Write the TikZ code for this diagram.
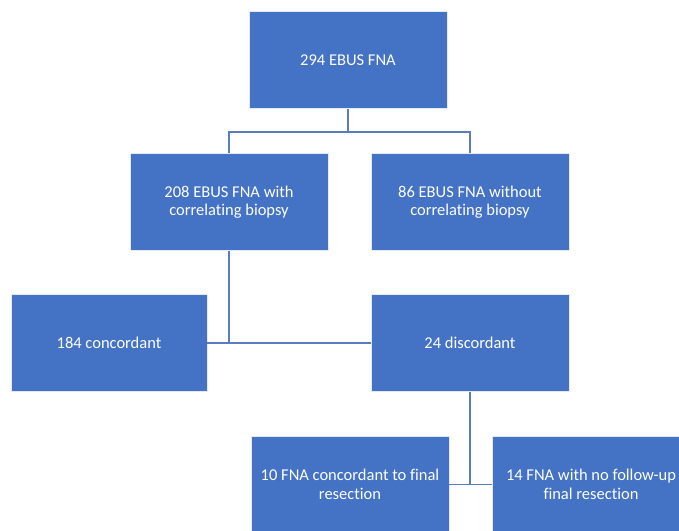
\documentclass[tikz,border=0pt]{standalone}
\usepackage{fontspec}
\setmainfont[Ligatures=NoCommon]{Carlito}
\definecolor{boxblue}{HTML}{4472C4}
\definecolor{lineblue}{HTML}{5A7DC2}
\begin{document}
\begin{tikzpicture}[x=1pt,y=-1pt,
  box/.style={rectangle, fill=boxblue, draw=white!85!boxblue, line width=0.6pt,
    minimum width=198pt, minimum height=97pt, inner sep=0pt, align=center,
    text=white, font=\fontsize{16.5}{18.5}\selectfont},
  conn/.style={draw=lineblue, line width=1.6pt}]
\useasboundingbox (0,0) rectangle (679,530);
\clip (0,0) rectangle (679,530);
\node[box] (T) at (348,60) {294 EBUS FNA};
\node[box] (A) at (229,202) {208 EBUS FNA with\\correlating biopsy};
\node[box] (B) at (470,202) {86 EBUS FNA without\\correlating biopsy};
\node[box, minimum width=196pt] (C) at (109,343) {184 concordant};
\node[box] (D) at (470,343) {24 discordant};
\node[box] (E) at (350,484.5) {10 FNA concordant to final\\resection};
\node[box] (F) at (591,484.5) {14 FNA with no follow-up\\final resection};
\coordinate (j1) at (348,132);
\draw[conn] (T.south) -- (j1);
\draw[conn] (A.north) |- (j1) -| (B.north);
\draw[conn] (A.south) -- (A.south |- C.east);
\draw[conn] (C.east) -- (D.west);
\draw[conn] (D.south) -- (D.south |- E.east);
\draw[conn] (E.east) -- (F.west);
\end{tikzpicture}
\end{document}
